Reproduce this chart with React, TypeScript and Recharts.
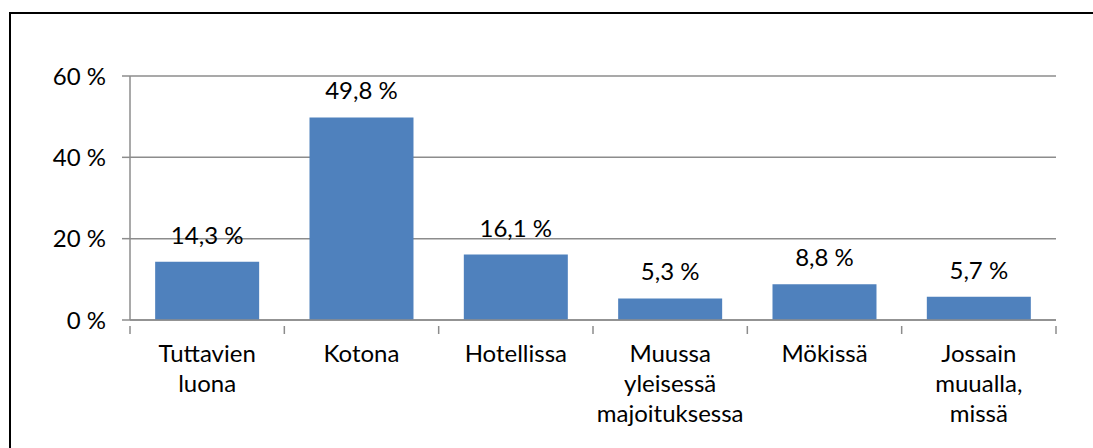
import * as React from "react";
import { Bar, BarChart, CartesianGrid, LabelList, XAxis, YAxis } from "recharts";

const categories = [
  "Tuttavien luona",
  "Kotona",
  "Hotellissa",
  "Muussa yleisessä majoituksessa",
  "Mökissä",
  "Jossain muualla, missä",
];
// how each category label is broken into lines
const categoryLines = [
  ["Tuttavien", "luona"],
  ["Kotona"],
  ["Hotellissa"],
  ["Muussa", "yleisessä", "majoituksessa"],
  ["Mökissä"],
  ["Jossain", "muualla,", "missä"],
];
const shares = [14.3, 49.8, 16.1, 5.3, 8.8, 5.7];
const yTicks = [0, 20, 40, 60];

const WIDTH = 1093;
const HEIGHT = 448;
const MARGIN = { top: 76, right: 37, left: 10, bottom: 18 };
const Y_AXIS_W = 120;
const FONT = 24;
const GRID = "#8c8c8c";

const data = categories.map((name, i) => ({ name, value: shares[i], idx: i }));

const step = (WIDTH - MARGIN.left - MARGIN.right - Y_AXIS_W) / categories.length;

function CategoryTick(props: any) {
  const { x, y, payload, index } = props;
  const lines = categoryLines[payload.index ?? index] || [payload.value];
  const axisY = y - 2;
  return (
    <g>
      <line x1={x - step / 2} x2={x - step / 2} y1={axisY} y2={axisY + 8} stroke={GRID} strokeWidth={1.5} />
      {index === categories.length - 1 && (
        <line x1={x + step / 2} x2={x + step / 2} y1={axisY} y2={axisY + 8} stroke={GRID} strokeWidth={1.5} />
      )}
      <text x={x} y={axisY + 36} textAnchor="middle" fill="#000" fontSize={FONT}>
        {lines.map((l, i) => (
          <tspan key={i} x={x} dy={i === 0 ? 0 : 30}>
            {l}
          </tspan>
        ))}
      </text>
    </g>
  );
}

const fmt = (v: number) => `${v.toFixed(1).replace(".", ",")} %`;

export default function App() {
  return (
    <div style={{ position: "absolute", left: 0, top: 0, width: WIDTH, height: HEIGHT, overflow: "hidden", background: "#fff", fontFamily: "Lato, sans-serif" }}>
      <div style={{ position: "absolute", left: 9, top: 12, width: 1200, height: 600, borderLeft: "2px solid #000", borderTop: "2px solid #000" }} />
      <div style={{ position: "absolute", left: 0, top: 0 }}>
        <BarChart width={WIDTH} height={HEIGHT} data={data} margin={MARGIN} barCategoryGap="16.3%">
          <CartesianGrid horizontal vertical={false} stroke={GRID} strokeWidth={1.5} />
          <XAxis
            dataKey="name"
            interval={0}
            height={110}
            axisLine={{ stroke: GRID, strokeWidth: 1.5 }}
            tickLine={false}
            tick={<CategoryTick />}
          />
          <YAxis
            width={Y_AXIS_W}
            domain={[0, 60]}
            ticks={yTicks}
            tickFormatter={(v) => `${v} %`}
            axisLine={{ stroke: GRID, strokeWidth: 1.5 }}
            tickLine={{ stroke: GRID, strokeWidth: 1.5 }}
            tickSize={8}
            tickMargin={16}
            tick={{ fill: "#000", fontSize: FONT }}
          />
          <Bar dataKey="value" fill="#4f81bd" isAnimationActive={false}>
            <LabelList dataKey="value" position="top" offset={18} formatter={(v: any) => fmt(Number(v))} fill="#000" fontSize={FONT} />
          </Bar>
        </BarChart>
      </div>
    </div>
  );
}
